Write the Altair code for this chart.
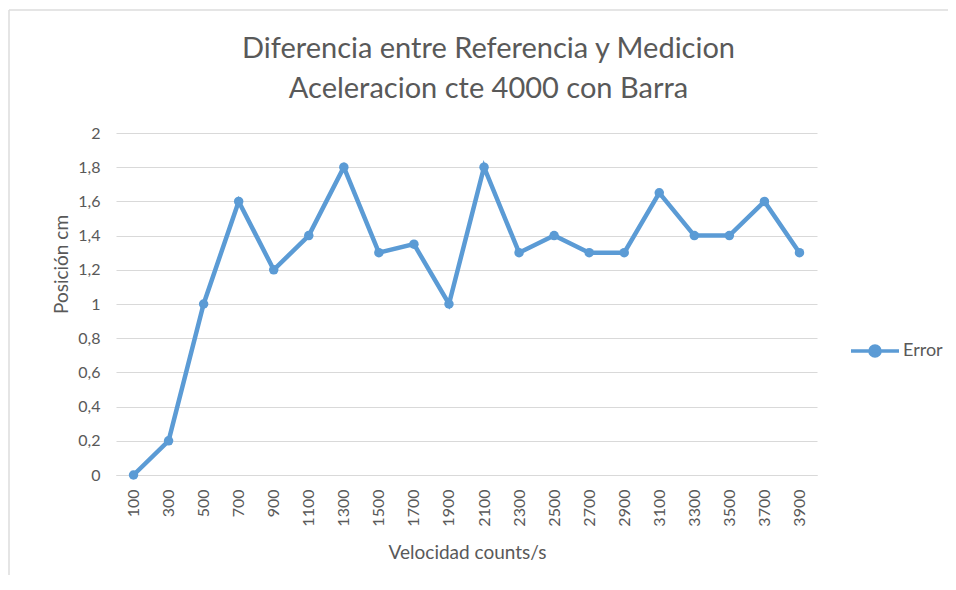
import altair as alt
import pandas as pd

velocidad = [100, 300, 500, 700, 900, 1100, 1300, 1500, 1700, 1900,
             2100, 2300, 2500, 2700, 2900, 3100, 3300, 3500, 3700, 3900]
error = [0.0, 0.2, 1.0, 1.6, 1.2, 1.4, 1.8, 1.3, 1.35, 1.0,
         1.8, 1.3, 1.4, 1.3, 1.3, 1.65, 1.4, 1.4, 1.6, 1.3]
y_ticks = [0, 0.2, 0.4, 0.6, 0.8, 1.0, 1.2, 1.4, 1.6, 1.8, 2.0]
series_name = "Error"

df = pd.DataFrame({"vel": [str(v) for v in velocidad], "err": error, "serie": series_name})

FONT = "Lato"
GRAY = "#595959"
BLUE = "#5b9bd5"
BORDER = "#dcdcdc"

x = alt.X("vel:O", sort=[str(v) for v in velocidad],
          axis=alt.Axis(title="Velocidad counts/s", labelAngle=-90, labelAlign="right",
                        labelBaseline="middle", labelPadding=14, ticks=False,
                        domainColor="#d9d9d9", domainWidth=1, grid=False,
                        titleX=351, titleY=77, titleBaseline="middle",
                        titleAnchor="start", titleAlign="center"))
y = alt.Y("err:Q", scale=alt.Scale(domain=[0, 2], nice=False),
          axis=alt.Axis(title="Posición cm", values=y_ticks, ticks=False, domain=False,
                        labelExpr="replace(format(datum.value, '~g'), '.', ',')",
                        labelPadding=16, gridColor="#d9d9d9", gridWidth=1,
                        titleX=-55, titleY=131, titleAngle=-90, titleAlign="center",
                        titleBaseline="middle", titleAnchor="start"))
color = alt.Color("serie:N", scale=alt.Scale(range=[BLUE]),
                  legend=alt.Legend(title=None, orient="none", legendX=733, legendY=192,
                                    symbolType="M-1,0L1,0M-0.21,0a0.21,0.21 0 1,0 0.42,0a0.21,0.21 0 1,0 -0.42,0",
                                    symbolSize=2304, symbolStrokeWidth=3.5,
                                    symbolFillColor=BLUE, symbolStrokeColor=BLUE,
                                    labelFont=FONT, labelFontSize=18, labelColor=GRAY,
                                    labelOffset=2))

base = alt.Chart(df).encode(x=x, y=y, color=color)
line = base.mark_line(strokeWidth=4.5)
pts = base.mark_point(filled=True, size=90, opacity=1)

frame_df = pd.DataFrame({"k": [0]})
top_border = alt.Chart(frame_df).mark_rule(color=BORDER, strokeWidth=1.5).encode(
    x=alt.value(-107), x2=alt.value(840), y=alt.value(-123))
left_border = alt.Chart(frame_df).mark_rule(color=BORDER, strokeWidth=1.5).encode(
    x=alt.value(-107), y=alt.value(-123), y2=alt.value(457))

chart = alt.layer(top_border, left_border, line, pts).properties(
    width=701, height=342,
    autosize=alt.AutoSizeParams(type="none"),
    padding={"left": 108, "top": 125, "right": 131, "bottom": 100},
    title=alt.TitleParams(["Diferencia entre Referencia y Medicion", "Aceleracion cte 4000 con Barra"],
                          font=FONT, fontSize=29, fontWeight="normal", color=GRAY,
                          lineHeight=40, offset=23, dx=22, dy=118, anchor="middle", frame="group"),
).configure_view(stroke=None).configure_axis(
    labelFont=FONT, labelFontSize=16, labelColor=GRAY,
    titleFont=FONT, titleFontSize=19, titleFontWeight="normal", titleColor=GRAY,
)

chart.save("out.html", embed_options={"renderer": "svg", "actions": False})
